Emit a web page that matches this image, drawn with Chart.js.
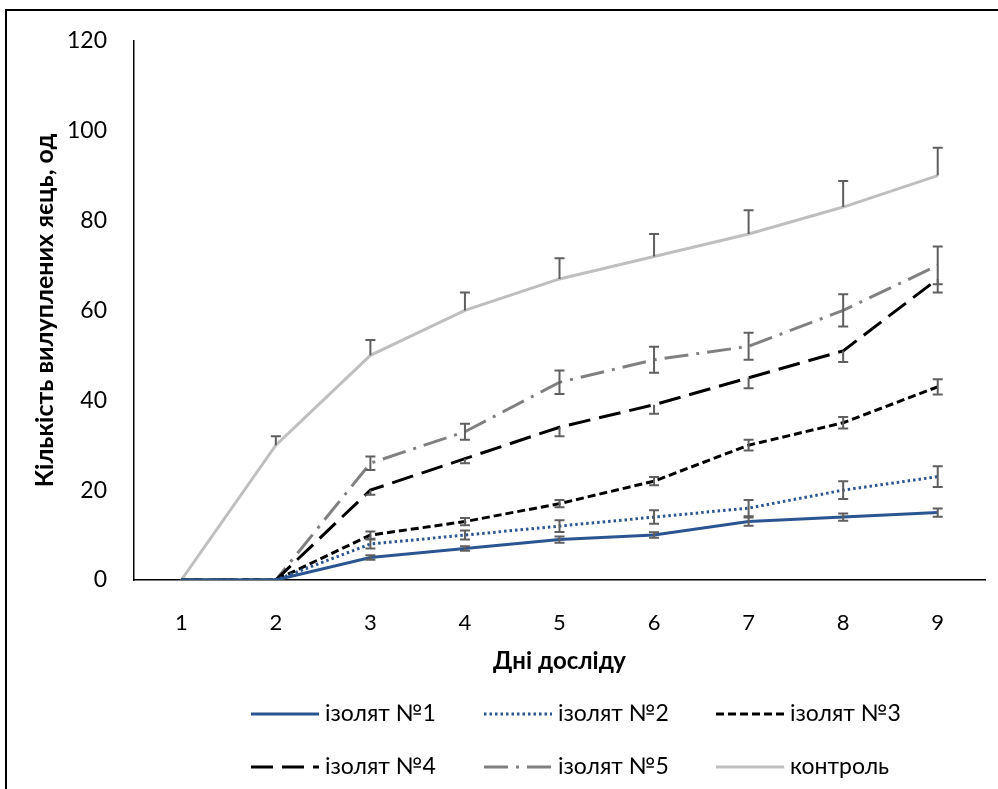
<!DOCTYPE html>
<html lang="uk">
<head>
<meta charset="utf-8">
<title>Кількість вилуплених яєць</title>
<script src="https://cdn.jsdelivr.net/npm/chart.js@4.4.1/dist/chart.umd.min.js"></script>
<style>
  html, body { margin: 0; padding: 0; background: #fff; }
  #wrap { position: relative; width: 998px; height: 789px; }
  #frame { position: absolute; left: 5px; top: 9px; right: 0; bottom: 0;
           border-top: 2px solid #000; border-left: 2px solid #000; pointer-events: none; }
</style>
</head>
<body>
<div id="wrap">
  <canvas id="eggsChart" width="998" height="789"></canvas>
  <div id="frame"></div>
</div>
<script>
// Дні досліду
const days = ["1", "2", "3", "4", "5", "6", "7", "8", "9"];

// Кількість вилуплених яєць по серіях
const isolate1 = [0, 0, 5, 7, 9, 10, 13, 14, 15];
const isolate2 = [0, 0, 8, 10, 12, 14, 16, 20, 23];
const isolate3 = [0, 0, 10, 13, 17, 22, 30, 35, 43];
const isolate4 = [0, 0, 20, 27, 34, 39, 45, 51, 67];
const isolate5 = [0, 0, 26, 33, 44, 49, 52, 60, 70];
const control = [0, 30, 50, 60, 67, 72, 77, 83, 90];

// Похибки (вгору / вниз)
const err1 = [0, 0, 0.5, 0.5, 0.7, 0.6, 0.9, 0.8, 0.9];
const err2 = [0, 0, 1, 1, 1.3, 1.5, 1.8, 2, 2.3];
const err3 = [0, 0, 0.8, 0.8, 0.8, 0.9, 1.2, 1.3, 1.7];
const err4Minus = [0, 0, 1, 1, 2, 2, 2.3, 2.5, 3];
const err5 = [0, 0, 1.5, 1.8, 2.6, 2.9, 3, 3.6, 4.2];
const errControlPlus = [0, 2, 3.4, 4, 4.6, 5, 5.3, 5.8, 6.2];

// Підписи осей
const yTicks = [0, 20, 40, 60, 80, 100, 120];
const yTitle = "Кількість вилуплених яєць, од";
const xTitle = "Дні досліду";

const fontFamily = "Lato, 'Open Sans', sans-serif";
const errColor = "#5f5f5f";

const datasets = [
  { label: "ізолят №1", data: isolate1, borderColor: "#2b5591", borderDash: [], errPlus: err1, errMinus: err1 },
  { label: "ізолят №2", data: isolate2, borderColor: "#2b5591", borderDash: [2.5, 3], errPlus: err2, errMinus: err2 },
  { label: "ізолят №3", data: isolate3, borderColor: "#000000", borderDash: [8, 4], errPlus: err3, errMinus: err3 },
  { label: "ізолят №4", data: isolate4, borderColor: "#000000", borderDash: [22, 9], errPlus: null, errMinus: err4Minus },
  { label: "ізолят №5", data: isolate5, borderColor: "#808080", borderDash: [24, 8, 3, 8], errPlus: err5, errMinus: err5 },
  { label: "контроль", data: control, borderColor: "#bfbfbf", borderDash: [], errPlus: errControlPlus, errMinus: null },
].map((d) => ({
  ...d,
  borderWidth: 3,
  pointRadius: 0,
  pointHoverRadius: 0,
  tension: 0,
  fill: false,
}));

// Планки похибок
const errorBarsPlugin = {
  id: "errorBars",
  afterDatasetsDraw(chart) {
    const { ctx, scales: { x, y } } = chart;
    ctx.save();
    ctx.strokeStyle = errColor;
    ctx.lineWidth = 2;
    ctx.setLineDash([]);
    const cap = 5;
    chart.data.datasets.forEach((ds) => {
      ds.data.forEach((v, i) => {
        const up = ds.errPlus ? ds.errPlus[i] : 0;
        const down = ds.errMinus ? ds.errMinus[i] : 0;
        if (!up && !down) return;
        const px = x.getPixelForValue(i);
        const yTop = y.getPixelForValue(v + up);
        const yBot = y.getPixelForValue(v - down);
        ctx.beginPath();
        ctx.moveTo(px, yTop);
        ctx.lineTo(px, yBot);
        if (up) { ctx.moveTo(px - cap, yTop); ctx.lineTo(px + cap, yTop); }
        if (down) { ctx.moveTo(px - cap, yBot); ctx.lineTo(px + cap, yBot); }
        ctx.stroke();
      });
    });
    ctx.restore();
  },
};

// Легенда у дві строки по три елементи
const legendPlugin = {
  id: "gridLegend",
  afterDraw(chart) {
    const { ctx } = chart;
    const colX = [251, 484, 716];
    const rowY = [714, 767];
    const lineLen = 68;
    ctx.save();
    ctx.font = "23px " + fontFamily;
    ctx.textBaseline = "middle";
    ctx.fillStyle = "#000";
    chart.data.datasets.forEach((ds, i) => {
      const cx = colX[i % 3];
      const cy = rowY[Math.floor(i / 3)];
      ctx.strokeStyle = ds.borderColor;
      ctx.lineWidth = 3;
      ctx.setLineDash(ds.borderDash);
      ctx.beginPath();
      ctx.moveTo(cx, cy);
      ctx.lineTo(cx + lineLen, cy);
      ctx.stroke();
      ctx.setLineDash([]);
      ctx.fillText(ds.label, cx + lineLen + 6, cy);
    });
    ctx.restore();
  },
};

const context = document.getElementById("eggsChart");

new Chart(context, {
  type: "line",
  data: {
    labels: days,
    datasets,
  },
  options: {
    responsive: false,
    animation: false,
    layout: {
      padding: { left: 0, top: 40, right: 13, bottom: 109 },
    },
    plugins: {
      legend: { display: false },
      tooltip: { enabled: false },
    },
    scales: {
      x: {
        offset: true,
        grid: { display: false, drawTicks: false },
        border: { display: true, color: "#000", width: 1.5 },
        ticks: { color: "#000", padding: 30, font: { family: fontFamily, size: 22 } },
        title: {
          display: true,
          text: xTitle,
          color: "#000",
          font: { family: fontFamily, size: 24, weight: "bold" },
          padding: { top: 0, bottom: 4 },
        },
        afterFit: (scale) => { scale.height = 100; },
      },
      y: {
        min: yTicks[0],
        max: yTicks[yTicks.length - 1],
        grid: { display: false, drawTicks: false },
        border: { display: true, color: "#000", width: 1.5 },
        afterBuildTicks: (scale) => { scale.ticks = yTicks.map((v) => ({ value: v })); },
        ticks: { color: "#000", padding: 27, font: { family: fontFamily, size: 23 } },
        title: {
          display: true,
          text: yTitle,
          color: "#000",
          font: { family: fontFamily, size: 25, weight: "bold" },
          padding: { top: 30, bottom: 0 },
        },
        afterFit: (scale) => { scale.width = 134; },
      },
    },
  },
  plugins: [errorBarsPlugin, legendPlugin],
});
</script>
</body>
</html>
